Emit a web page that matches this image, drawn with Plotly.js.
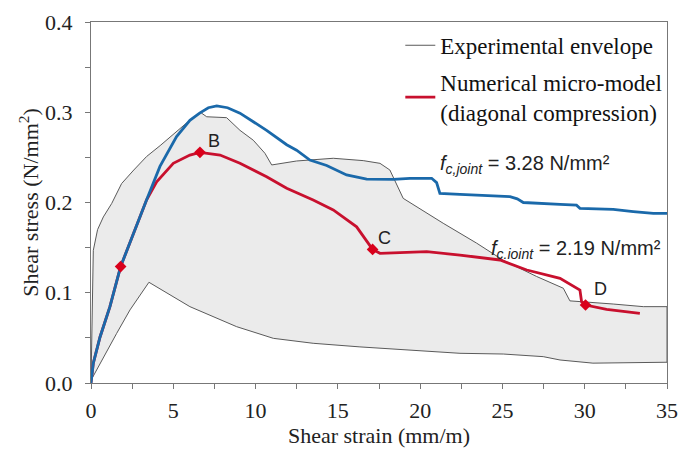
<!DOCTYPE html>
<html><head><meta charset="utf-8">
<script src="https://cdn.plot.ly/plotly-3.0.1.min.js"></script>
<style>html,body{margin:0;padding:0;background:#fff}#chart{width:680px;height:451px}</style>
</head><body><div id="chart"></div>
<script>
// Experimental envelope: upper and lower boundary
const envUpperX = [0, 0.05, 0.14, 0.4, 0.75, 1.26, 1.86, 2.6, 3.38, 4.2, 5.0, 5.8, 6.62, 6.72, 7.03, 8.24, 9.05, 9.86, 10.57, 10.98, 12.49, 14.72, 16.54, 17.56, 18.16, 18.57, 18.97, 21.4, 23.43, 25.05, 27.08, 28.7, 29.1, 31.73, 33.56, 35];
const envUpperY = [0, 0.07, 0.147, 0.17, 0.184, 0.199, 0.221, 0.236, 0.251, 0.263, 0.275, 0.288, 0.299, 0.299, 0.295, 0.294, 0.280, 0.269, 0.2545, 0.2416, 0.246, 0.249, 0.2464, 0.2434, 0.236, 0.221, 0.2046, 0.177, 0.155, 0.136, 0.118, 0.105, 0.091, 0.0875, 0.0846, 0.0846];
const envLowerX = [0, 0.55, 1.56, 2.37, 3.52, 6.01, 8.85, 11.08, 13.5, 16.34, 19.99, 22.42, 25.05, 27.48, 28.5, 30.5, 35];
const envLowerY = [0.003, 0.022, 0.055, 0.081, 0.1116, 0.0846, 0.0624, 0.0495, 0.044, 0.040, 0.0355, 0.0329, 0.0321, 0.0292, 0.0255, 0.022, 0.023];

// Numerical model, f_c,joint = 3.28 N/mm2 (blue)
const blueX = [0, 0.14, 0.55, 1.15, 1.8, 2.57, 3.38, 4.19, 5.2, 6.01, 6.6, 7.13, 7.64, 8.3, 9.05, 10.67, 11.89, 12.49, 13.3, 14.32, 15.53, 16.75, 17.56, 18.37, 19.38, 20.7, 21.0, 21.2, 22.42, 25.46, 25.9, 26.27, 28.5, 29.5, 29.71, 31.73, 32.95, 34.17, 35];
const blueY = [0, 0.022, 0.051, 0.0846, 0.129, 0.166, 0.203, 0.24, 0.273, 0.291, 0.299, 0.305, 0.307, 0.305, 0.299, 0.280, 0.264, 0.258, 0.247, 0.241, 0.2305, 0.226, 0.226, 0.2257, 0.2268, 0.2268, 0.222, 0.210, 0.209, 0.2064, 0.204, 0.200, 0.198, 0.197, 0.1936, 0.1924, 0.190, 0.188, 0.188];

// Numerical micro-model, f_c,joint = 2.19 N/mm2 (red)
const redX = [0, 0.14, 0.55, 1.15, 1.8, 2.57, 3.38, 3.99, 5.0, 6.01, 6.62, 7.84, 9.05, 10.67, 11.89, 13.5, 14.72, 16.14, 16.75, 17.11, 17.56, 20.4, 22.42, 24.85, 26.48, 28.5, 29.71, 29.81, 30.05, 31.33, 33.35];
const redY = [0, 0.022, 0.051, 0.0846, 0.129, 0.166, 0.203, 0.223, 0.2434, 0.2526, 0.2556, 0.2526, 0.2434, 0.2286, 0.2157, 0.2028, 0.1917, 0.173, 0.158, 0.148, 0.1437, 0.1455, 0.1418, 0.1363, 0.1252, 0.116, 0.103, 0.090, 0.0864, 0.0817, 0.0772];

// Marked points A-D
const ptLabels = ['A', 'B', 'C', 'D'];
const ptX = [1.8, 6.62, 17.11, 30.05];
const ptY = [0.129, 0.2556, 0.148, 0.0864];

const xTickVals = [0, 5, 10, 15, 20, 25, 30, 35];
const yTickVals = [0.0, 0.1, 0.2, 0.3, 0.4];

const envX = envUpperX.concat(envLowerX.slice().reverse());
const envY = envUpperY.concat(envLowerY.slice().reverse());

const serif = 'Liberation Serif, Times New Roman, serif';
const sans = 'Liberation Sans, Arial, sans-serif';
const gray = '#5a5a5a', red = '#c8102e', blue = '#1a69aa';

const traces = [
  {x: envX, y: envY, type: 'scatter', mode: 'lines', fill: 'toself', fillcolor: '#ebebeb',
   line: {color: gray, width: 1}, showlegend: false, hoverinfo: 'skip'},
  {x: redX, y: redY, type: 'scatter', mode: 'lines', line: {color: red, width: 2.8},
   showlegend: false},
  {x: blueX, y: blueY, type: 'scatter', mode: 'lines', line: {color: blue, width: 2.8},
   showlegend: false},
  {x: ptX, y: ptY, type: 'scatter', mode: 'markers', marker: {symbol: 'diamond', size: 9, color: '#d9001b'},
   showlegend: false},
  {x: [null], y: [null], type: 'scatter', mode: 'lines', line: {color: gray, width: 1},
   name: 'Experimental envelope', legendgroup: 'a'},
  {x: [null], y: [null], type: 'scatter', mode: 'lines', line: {color: red, width: 2.8},
   name: 'Numerical micro-model<br>(diagonal compression)', legendgroup: 'b'}
];

const labelOffsets = [[-2, 0.016], [0.85, 0.0125], [0.75, 0.013], [0.9, 0.018]];
const annotations = ptLabels.map((t, i) => ({
  x: ptX[i] + labelOffsets[i][0], y: ptY[i] + labelOffsets[i][1], text: t, showarrow: false,
  font: {family: sans, size: 18, color: '#222'}, xanchor: 'center', yanchor: 'middle'
}));
annotations.push({x: 21.1, y: 0.2425, xanchor: 'left', yanchor: 'middle', showarrow: false,
  text: '<i>f</i><sub><i>c,joint</i></sub> = 3.28 N/mm²', font: {family: sans, size: 20, color: '#222'}});
annotations.push({x: 24.2, y: 0.1475, xanchor: 'left', yanchor: 'middle', showarrow: false,
  text: '<i>f</i><sub><i>c.ioint</i></sub> = 2.19 N/mm²', font: {family: sans, size: 20, color: '#222'}});

const axisCommon = {
  showgrid: false, zeroline: false, showline: true, linecolor: '#777', linewidth: 1.2, mirror: true,
  ticks: 'outside', ticklen: 5, tickcolor: '#777', tickfont: {family: serif, size: 22, color: '#222'}
};

const layout = {
  width: 680, height: 451,
  margin: {l: 91, r: 13, t: 22, b: 68},
  paper_bgcolor: '#fff', plot_bgcolor: '#fff',
  xaxis: Object.assign({}, axisCommon, {range: [0, 35], tickvals: xTickVals, ticklabelstandoff: 2,
    minor: {dtick: 2.5, ticks: 'outside', ticklen: 5, tickcolor: '#777'},
    title: {text: 'Shear strain (mm/m)', font: {family: serif, size: 22, color: '#222'}, standoff: 2}}),
  yaxis: Object.assign({}, axisCommon, {range: [0, 0.4], tickvals: yTickVals, tickformat: '.1f',
    ticklabelstandoff: 8,
    minor: {dtick: 0.05, ticks: 'outside', ticklen: 5, tickcolor: '#777'},
    title: {text: 'Shear stress (N/mm<sup>2</sup>)', font: {family: serif, size: 22, color: '#222'}, standoff: 0}}),
  legend: {x: 0.537, y: 0.995, xanchor: 'left', yanchor: 'top', bgcolor: 'rgba(0,0,0,0)',
    font: {family: serif, size: 23, color: '#111'}, itemwidth: 30, tracegroupgap: 4,
    traceorder: 'grouped'},
  annotations: annotations,
  showlegend: true
};

Plotly.newPlot('chart', traces, layout, {staticPlot: true, displayModeBar: false});
</script>
</body></html>
